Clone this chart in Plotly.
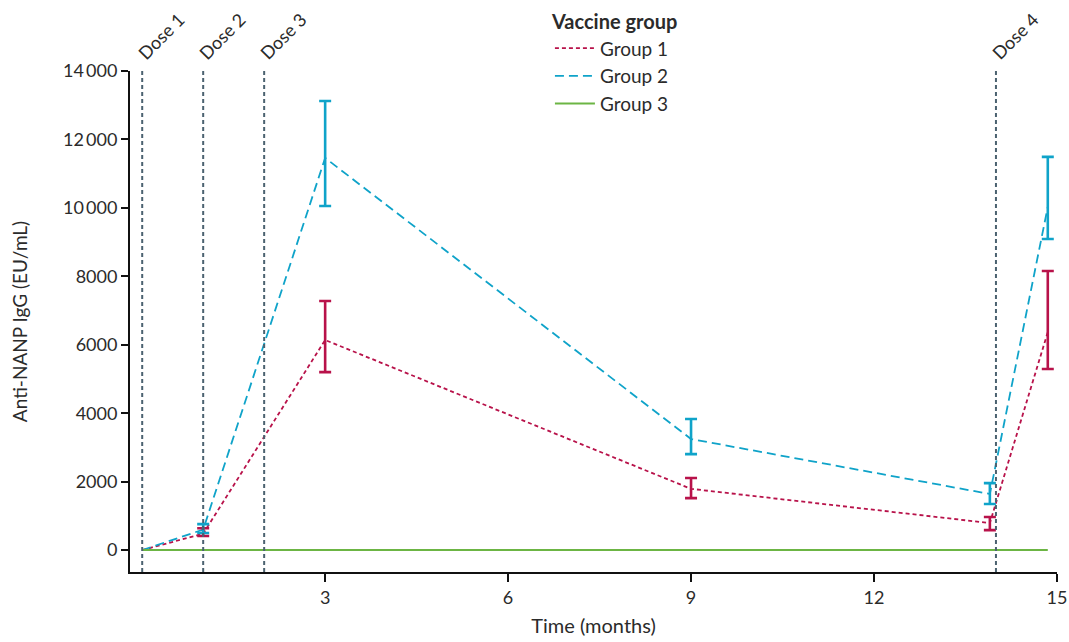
import plotly.graph_objects as go

# Antibody titres over time (months) for each vaccine group
months = [0, 1, 3, 9, 13.9, 14.85]

g1_mean = [0, 480, 6140, 1790, 790, 6370]
g1_upper = [0, 640, 7280, 2105, 965, 8155]
g1_lower = [0, 410, 5200, 1520, 585, 5290]

g2_mean = [0, 600, 11460, 3245, 1640, 10030]
g2_upper = [0, 760, 13125, 3830, 1958, 11490]
g2_lower = [0, 500, 10055, 2805, 1345, 9090]

g3_months = [0, 14.85]
g3_mean = [0, 0]

dose_months = [0, 1, 2, 14]
dose_labels = ["Dose 1", "Dose 2", "Dose 3", "Dose 4"]

y_ticks = [0, 2000, 4000, 6000, 8000, 10000, 12000, 14000]
y_ticktext = ["0", "2000", "4000", "6000", "8000", "10\u2009000", "12\u2009000", "14\u2009000"]
x_ticks = [3, 6, 9, 12, 15]

RED = "#b8124a"
BLUE = "#0fa3c9"
GREEN = "#6cb544"
DOSE = "#4b6270"
FONT = "Lato"
TXT = "#2b2b2b"

fig = go.Figure()

groups = [
    ("Group 1", g1_mean, g1_upper, g1_lower, RED, "4px,3px"),
    ("Group 2", g2_mean, g2_upper, g2_lower, BLUE, "9px,5px"),
]

for name, mean, upper, lower, color, dash in groups:
    fig.add_trace(go.Scatter(
        x=months, y=mean, mode="lines", name=name,
        line=dict(color=color, width=1.8, dash=dash),
    ))

fig.add_trace(go.Scatter(
    x=g3_months, y=g3_mean, mode="lines", name="Group 3",
    line=dict(color=GREEN, width=2),
))

# Error bars (skip baseline at month 0)
for name, mean, upper, lower, color, dash in groups:
    fig.add_trace(go.Scatter(
        x=months[1:], y=mean[1:], mode="markers", showlegend=False,
        marker=dict(size=1, color="rgba(0,0,0,0)"),
        error_y=dict(
            type="data", symmetric=False,
            array=[u - m for u, m in zip(upper[1:], mean[1:])],
            arrayminus=[m - l for m, l in zip(mean[1:], lower[1:])],
            color=color, thickness=2.6, width=6,
        ),
        hoverinfo="skip",
    ))

shapes = []
annotations = []
for d, lab in zip(dose_months, dose_labels):
    shapes.append(dict(
        type="line", xref="x", yref="paper", x0=d, x1=d, y0=0, y1=1,
        line=dict(color=DOSE, width=2, dash="4px,3px"),
    ))
    annotations.append(dict(
        x=d, y=1, xref="x", yref="paper", text=lab, showarrow=False,
        textangle=-45, xanchor="center", yanchor="middle",
        xshift=19, yshift=35,
        font=dict(family=FONT, size=18, color=TXT),
    ))

fig.update_layout(
    width=1069, height=642,
    margin=dict(l=130, r=12, t=71, b=70, autoexpand=False),
    paper_bgcolor="white", plot_bgcolor="white",
    font=dict(family=FONT, size=16, color=TXT),
    shapes=shapes, annotations=annotations,
    showlegend=True,
    legend=dict(
        title=dict(text="<b>Vaccine group</b>", font=dict(family=FONT, size=20, color=TXT)),
        x=0.453, y=1.135, xanchor="left", yanchor="top",
        font=dict(family=FONT, size=19, color=TXT),
        bgcolor="rgba(0,0,0,0)", tracegroupgap=0, itemwidth=40,
    ),
)

fig.update_xaxes(
    range=[-0.2, 15.001], tickvals=x_ticks, ticks="outside", ticklen=8, tickwidth=2,
    tickcolor="#111", showline=True, linecolor="#111", linewidth=2,
    showgrid=False, zeroline=False, ticklabeloverflow="allow", automargin=False,
    tickfont=dict(family=FONT, size=18, color=TXT),
    title=dict(text="Time (months)", font=dict(family=FONT, size=20, color=TXT), standoff=12),
)
fig.update_yaxes(
    range=[-640, 14000], tickvals=y_ticks, ticktext=y_ticktext,
    ticks="outside", ticklen=7, tickwidth=2, tickcolor="#111",
    showline=True, linecolor="#111", linewidth=2,
    showgrid=False, zeroline=False, automargin=False,
    tickfont=dict(family=FONT, size=18, color=TXT),
    title=dict(text="Anti-NANP IgG (EU/mL)", font=dict(family=FONT, size=19, color=TXT), standoff=30),
)

fig.write_html("out.html")
